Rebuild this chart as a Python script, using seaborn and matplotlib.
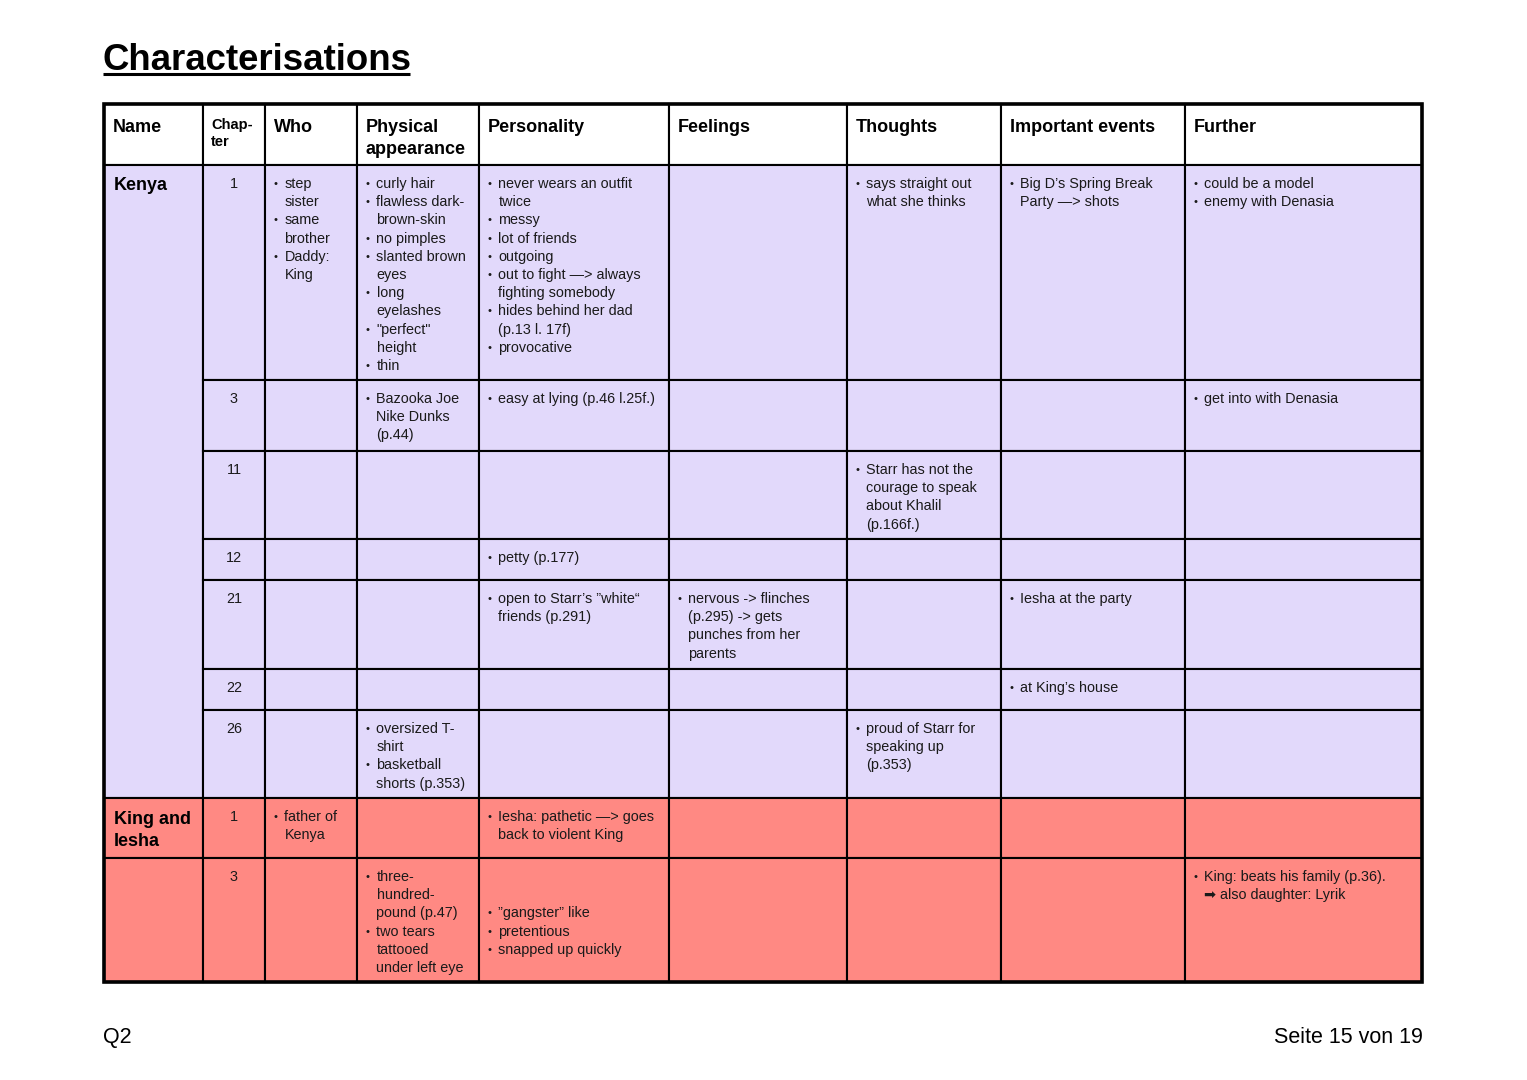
import matplotlib.pyplot as plt
from matplotlib.patches import Rectangle
import seaborn as sns

# table content
title = "Characterisations"
headers = ["Name", "Chap-\nter", "Who", "Physical\nappearance", "Personality",
           "Feelings", "Thoughts", "Important events", "Further"]
chapters = ["1", "3", "11", "12", "21", "22", "26", "1", "3"]
names = ["Kenya", "King and\nIesha", ""]
name_span = [7, 1, 1]
row_group = ["kenya"] * 7 + ["king"] * 2

# one list of bullet items per chapter row (None = empty line)
who = [["step\nsister", "same\nbrother", "Daddy:\nKing"], [], [], [], [], [], [],
       ["father of\nKenya"], []]
physical = [["curly hair", "flawless dark-\nbrown-skin", "no pimples", "slanted brown\neyes",
             "long\neyelashes", "\"perfect\"\nheight", "thin"],
            ["Bazooka Joe\nNike Dunks\n(p.44)"], [], [], [], [],
            ["oversized T-\nshirt", "basketball\nshorts (p.353)"], [],
            ["three-\nhundred-\npound (p.47)", "two tears\ntattooed\nunder left eye"]]
personality = [["never wears an outfit\ntwice", "messy", "lot of friends", "outgoing",
                "out to fight —> always\nfighting somebody", "hides behind her dad\n(p.13 l. 17f)",
                "provocative"],
               ["easy at lying (p.46 l.25f.)"], [], ["petty (p.177)"],
               ["open to Starr’s ”white“\nfriends (p.291)"], [], [],
               ["Iesha: pathetic —> goes\nback to violent King"],
               [None, None, "”gangster” like", "pretentious", "snapped up quickly"]]
feelings = [[], [], [], [], ["nervous -> flinches\n(p.295) -> gets\npunches from her\nparents"],
            [], [], [], []]
thoughts = [["says straight out\nwhat she thinks"], [],
            ["Starr has not the\ncourage to speak\nabout Khalil\n(p.166f.)"], [], [], [],
            ["proud of Starr for\nspeaking up\n(p.353)"], [], []]
events = [["Big D’s Spring Break\nParty —> shots"], [], [], [], ["Iesha at the party"],
          ["at King’s house"], [], [], []]
further = [["could be a model", "enemy with Denasia"], ["get into with Denasia"], [], [], [],
           [], [], [], ["King: beats his family (p.36).\n➡ also daughter: Lyrik"]]
footer_left = "Q2"
footer_right = "Seite 15 von 19"

columns = [who, physical, personality, feelings, thoughts, events, further]

# layout (pixels)
W, H = 1527, 1080
col_edges = [104, 203, 265, 357, 479, 669, 847, 1001, 1185, 1422]
row_edges = [104, 165, 380, 451, 539, 580, 669, 710, 798, 858, 982]
colors = {"kenya": "#E2D9FB", "king": "#FF8983", "head": "white"}

sns.set_theme(style="white")
plt.rcParams["font.family"] = ["Liberation Sans", "DejaVu Sans"]

fig = plt.figure(figsize=(W / 100, H / 100), dpi=100)
ax = fig.add_axes([0, 0, 1, 1])
ax.set_xlim(0, W)
ax.set_ylim(H, 0)
ax.axis("off")

LW = 1.5
TXT = "#1a1a1a"


def cell(x0, x1, y0, y1, fc):
    ax.add_patch(Rectangle((x0, y0), x1 - x0, y1 - y0, facecolor=fc,
                           edgecolor="black", linewidth=LW, zorder=1))


def bullets(x0, top, items):
    line = 0
    for item in items:
        if item is None:
            line += 1
            continue
        for j, txt in enumerate(item.split("\n")):
            y = top + 23 + line * 18.2
            if j == 0:
                ax.text(x0 + 10.5, y - 1, "•", fontsize=8, color=TXT, ha="center",
                        va="baseline", zorder=3)
            ax.text(x0 + 19.5, y, txt, fontsize=10.4, color=TXT, va="baseline", zorder=3)
            line += 1


# header row
for i, h in enumerate(headers):
    cell(col_edges[i], col_edges[i + 1], row_edges[0], row_edges[1], colors["head"])
    small = i == 1
    for j, part in enumerate(h.split("\n")):
        if small:
            ax.text(col_edges[i] + 8, row_edges[0] + 25 + j * 17, part, fontsize=10.5,
                    fontweight="bold", color="black", va="baseline")
        else:
            ax.text(col_edges[i] + 8.5, row_edges[0] + 27.5 + j * 22, part, fontsize=13,
                    fontweight="bold", color="black", va="baseline")

# name column
r = 0
for name, span in zip(names, name_span):
    top, bot = row_edges[r + 1], row_edges[r + 1 + span]
    cell(col_edges[0], col_edges[1], top, bot, colors[row_group[r]])
    for j, part in enumerate(name.split("\n")):
        ax.text(col_edges[0] + 9.5, top + 25.5 + j * 22.5, part, fontsize=13,
                fontweight="bold", color="black", va="baseline", zorder=3)
    r += span

# body rows
for r, ch in enumerate(chapters):
    top, bot = row_edges[r + 1], row_edges[r + 2]
    fc = colors[row_group[r]]
    for c in range(1, 9):
        cell(col_edges[c], col_edges[c + 1], top, bot, fc)
    ax.text((col_edges[1] + col_edges[2]) / 2, top + 23, ch, fontsize=10.4, color=TXT,
            ha="center", va="baseline", zorder=3)
    for c, col in enumerate(columns):
        bullets(col_edges[c + 2], top, col[r])

# outer border
ax.add_patch(Rectangle((col_edges[0], row_edges[0]), col_edges[-1] - col_edges[0],
                       row_edges[-1] - row_edges[0], fill=False, edgecolor="black",
                       linewidth=2.6, zorder=4))

# title and footer
ax.text(103, 70, title, fontsize=26.4, fontweight="bold", color="black", va="baseline")
ax.plot([103, 410], [74, 74], color="black", linewidth=2.2, solid_capstyle="butt")
ax.text(103, 1043, footer_left, fontsize=15.5, color="black", va="baseline")
ax.text(1423, 1043, footer_right, fontsize=15.5, color="black", ha="right", va="baseline")

fig.savefig("out.png", dpi=100)
